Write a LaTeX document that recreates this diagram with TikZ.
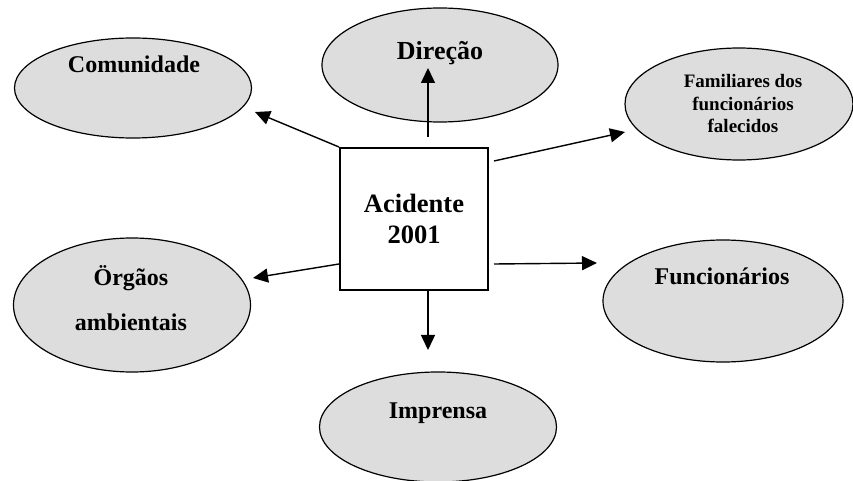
\documentclass[tikz,border=0pt]{standalone}
\usepackage{fontspec}
\setmainfont{Liberation Serif}
\usetikzlibrary{shapes.geometric,arrows.meta}
\definecolor{ovalgray}{RGB}{221,221,221}
\begin{document}
\begin{tikzpicture}[x=0.5pt,y=-0.5pt,
    every node/.style={font=\bfseries\fontsize{12}{14}\selectfont},
    oval/.style={ellipse,draw,line width=0.6pt,fill=ovalgray,inner sep=0pt},
    txt/.style={anchor=base,inner sep=0pt,align=center},
    arr/.style={-{Triangle[length=7.5pt,width=7pt]},line width=0.7pt}]
  \useasboundingbox (0,0) rectangle (853,481);
  \node (acid) [draw,line width=1pt,minimum width=74pt,minimum height=71pt,align=center,
    font=\bfseries\fontsize{13.25}{15.5}\selectfont] at (414,219) {Acidente\\2001};
  \node (com) [oval,minimum width=118.5pt,minimum height=50pt] at (133,88) {};
  \node (dir) [oval,minimum width=118pt,minimum height=57pt] at (440,65) {};
  \node (fam) [oval,minimum width=114pt,minimum height=56pt] at (739,104) {};
  \node (org) [oval,minimum width=118.5pt,minimum height=67pt] at (132,305) {};
  \node (fun) [oval,minimum width=120pt,minimum height=61pt] at (723,301) {};
  \node (imp) [oval,minimum width=118.5pt,minimum height=55pt] at (438,427) {};
  \node (comt) [txt] at (134,73) {Comunidade};
  \node (dirt) [txt,font=\bfseries\fontsize{13}{15}\selectfont] at (440,60) {Direção};
  \node (famt) [txt,font=\bfseries\fontsize{9.5}{11.25}\selectfont] at (743,133) {Familiares dos\\funcionários\\falecidos};
  \node (orgt) [txt,font=\bfseries\fontsize{12}{22.5}\selectfont] at (131,330) {Örgãos\\ambientais};
  \node (funt) [txt] at (722,285) {Funcionários};
  \node (impt) [txt] at (438,418) {Imprensa};
  \coordinate (comtip) at (255,112);
  \coordinate (dirtip) at (428,68);
  \coordinate (famtip) at (625,132);
  \coordinate (orgtip) at (253,278);
  \coordinate (funtip) at (597,263);
  \coordinate (imptip) at (428,350);
  \draw[arr] (acid.north west) -- (comtip);
  \draw[arr] ([xshift=7pt,yshift=5pt]acid.north) -- (dirtip);
  \draw[arr] ([xshift=2.5pt,yshift=-7pt]acid.north east) -- (famtip);
  \draw[arr] ([yshift=13.5pt]acid.south west) -- (orgtip);
  \draw[arr] ([xshift=2.5pt,yshift=13.5pt]acid.south east) -- (funtip);
  \draw[arr] ([xshift=7pt]acid.south) -- (imptip);
\end{tikzpicture}
\end{document}
